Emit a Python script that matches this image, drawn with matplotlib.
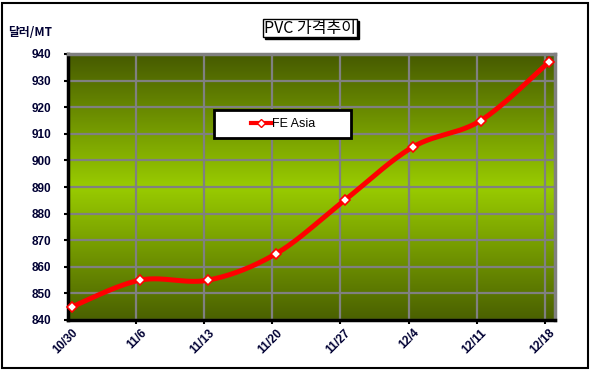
import numpy as np
import matplotlib.pyplot as plt
from matplotlib.patches import Rectangle
from matplotlib.colors import LinearSegmentedColormap

dates = ['10/30', '11/6', '11/13', '11/20', '11/27', '12/4', '12/11', '12/18']
fe_asia = [845, 855, 855, 865, 885, 905, 915, 937]
y_ticks = list(range(840, 941, 10))

W, H = 591, 370


def smooth(x, y, n=30):
    # excel style smoothed line (bezier through the points)
    pts = np.column_stack([x, y]).astype(float)
    out = []
    for i in range(len(pts) - 1):
        p0 = pts[max(i - 1, 0)]
        p1 = pts[i]
        p2 = pts[i + 1]
        p3 = pts[min(i + 2, len(pts) - 1)]
        c1 = p1 + (p2 - p0) / 6
        c2 = p2 - (p3 - p1) / 6
        t = np.linspace(0, 1, n)[:, None]
        seg = (1 - t)**3 * p1 + 3 * (1 - t)**2 * t * c1 + 3 * (1 - t) * t**2 * c2 + t**3 * p2
        out.append(seg if i == 0 else seg[1:])
    return np.vstack(out)


def px(x0, y0, w, h):
    # pixel box -> figure fraction
    return (x0 / W, 1 - (y0 + h) / H, w / W, h / H)


fig = plt.figure(figsize=(W / 100, H / 100), dpi=100)
fig.patch.set_facecolor('white')

# outer border
fig.add_artist(Rectangle((2 / W, 2 / H), 586 / W, 365 / H, transform=fig.transFigure,
                         fill=False, ec='black', lw=1.5))

ax = fig.add_axes(px(68, 54, 487, 266))

x = np.arange(len(dates))
ax.set_xlim(-0.06, len(dates) - 1 + 0.09)
ax.set_ylim(840, 940)

# gradient background
cmap = LinearSegmentedColormap.from_list('g', [(0, '#465a00'), (0.5, '#99cc00'), (1, '#4a6000')])
grad = np.linspace(0, 1, 256)[:, None]
ax.imshow(grad, cmap=cmap, aspect='auto', extent=(*ax.get_xlim(), 840, 940), zorder=0)

ax.set_yticks(y_ticks)
ax.set_xticks(x)
ax.set_xticklabels(dates)
ax.set_xticks(x[1:] - 0.06, minor=True)
ax.grid(axis='y', which='major', color='#808080', lw=1.6, zorder=1)
ax.grid(axis='x', which='minor', color='#808080', lw=1.6, zorder=1)
ax.set_axisbelow(True)

ax.tick_params(axis='y', length=3, width=1.5, pad=9, labelsize=8.5, labelcolor='#000033')
ax.tick_params(axis='x', which='major', length=0, pad=5, labelsize=8.5, labelcolor='#000033')
ax.tick_params(axis='x', which='minor', length=3, width=1.5)
for lab in ax.get_yticklabels() + ax.get_xticklabels():
    lab.set_fontweight('bold')
    lab.set_fontfamily('Liberation Sans')
for lab in ax.get_xticklabels():
    lab.set_rotation(45)
    lab.set_ha('right')
    lab.set_va('top')
    lab.set_rotation_mode('anchor')

for side in ['left', 'bottom']:
    ax.spines[side].set_color('black')
    ax.spines[side].set_linewidth(2.5)
for side in ['top', 'right']:
    ax.spines[side].set_color('#808080')
    ax.spines[side].set_linewidth(2.5)

curve = smooth(x, fe_asia)
ax.plot(curve[:, 0], curve[:, 1], color='red', lw=3.6, zorder=3, solid_capstyle='round')
ax.plot(x, fe_asia, ls='none', marker='D', ms=5.5, mfc='white', mec='red', mew=1.2,
        zorder=4, clip_on=False)

# legend box
fig.add_artist(Rectangle(px(214, 110, 137, 28)[:2], 137 / W, 28 / H, transform=fig.transFigure,
                         fc='white', ec='black', lw=2, zorder=5))
h, = ax.plot([], [], color='red', lw=3, marker='D', ms=4, mfc='white', mec='red')
leg = fig.legend([h], ['FE Asia'], loc='center', bbox_to_anchor=(283 / W, 1 - 124 / H),
                 frameon=False, handlelength=1.6, handletextpad=0.1,
                 prop={'family': 'Liberation Sans', 'size': 9})
leg.set_zorder(6)

# title box with shadow
fig.add_artist(Rectangle(px(265, 21, 94, 18)[:2], 94 / W, 18 / H, transform=fig.transFigure,
                         fc='black', ec='black', lw=1, zorder=5))
fig.add_artist(Rectangle(px(263, 19, 94, 18)[:2], 94 / W, 18 / H, transform=fig.transFigure,
                         fc='white', ec='black', lw=1, zorder=6))
fig.text(310 / W, 1 - 28 / H, 'PVC 가격추이', ha='center', va='center', fontsize=11.5,
         family=['Noto Sans CJK KR', 'DejaVu Sans'], zorder=7)

fig.text(8 / W, 1 - 32 / H, '달러/MT', ha='left', va='center', fontsize=8.5, fontweight='bold',
         family=['Noto Sans CJK KR', 'DejaVu Sans'], color='#000033')

fig.savefig('out.png', dpi=100)
